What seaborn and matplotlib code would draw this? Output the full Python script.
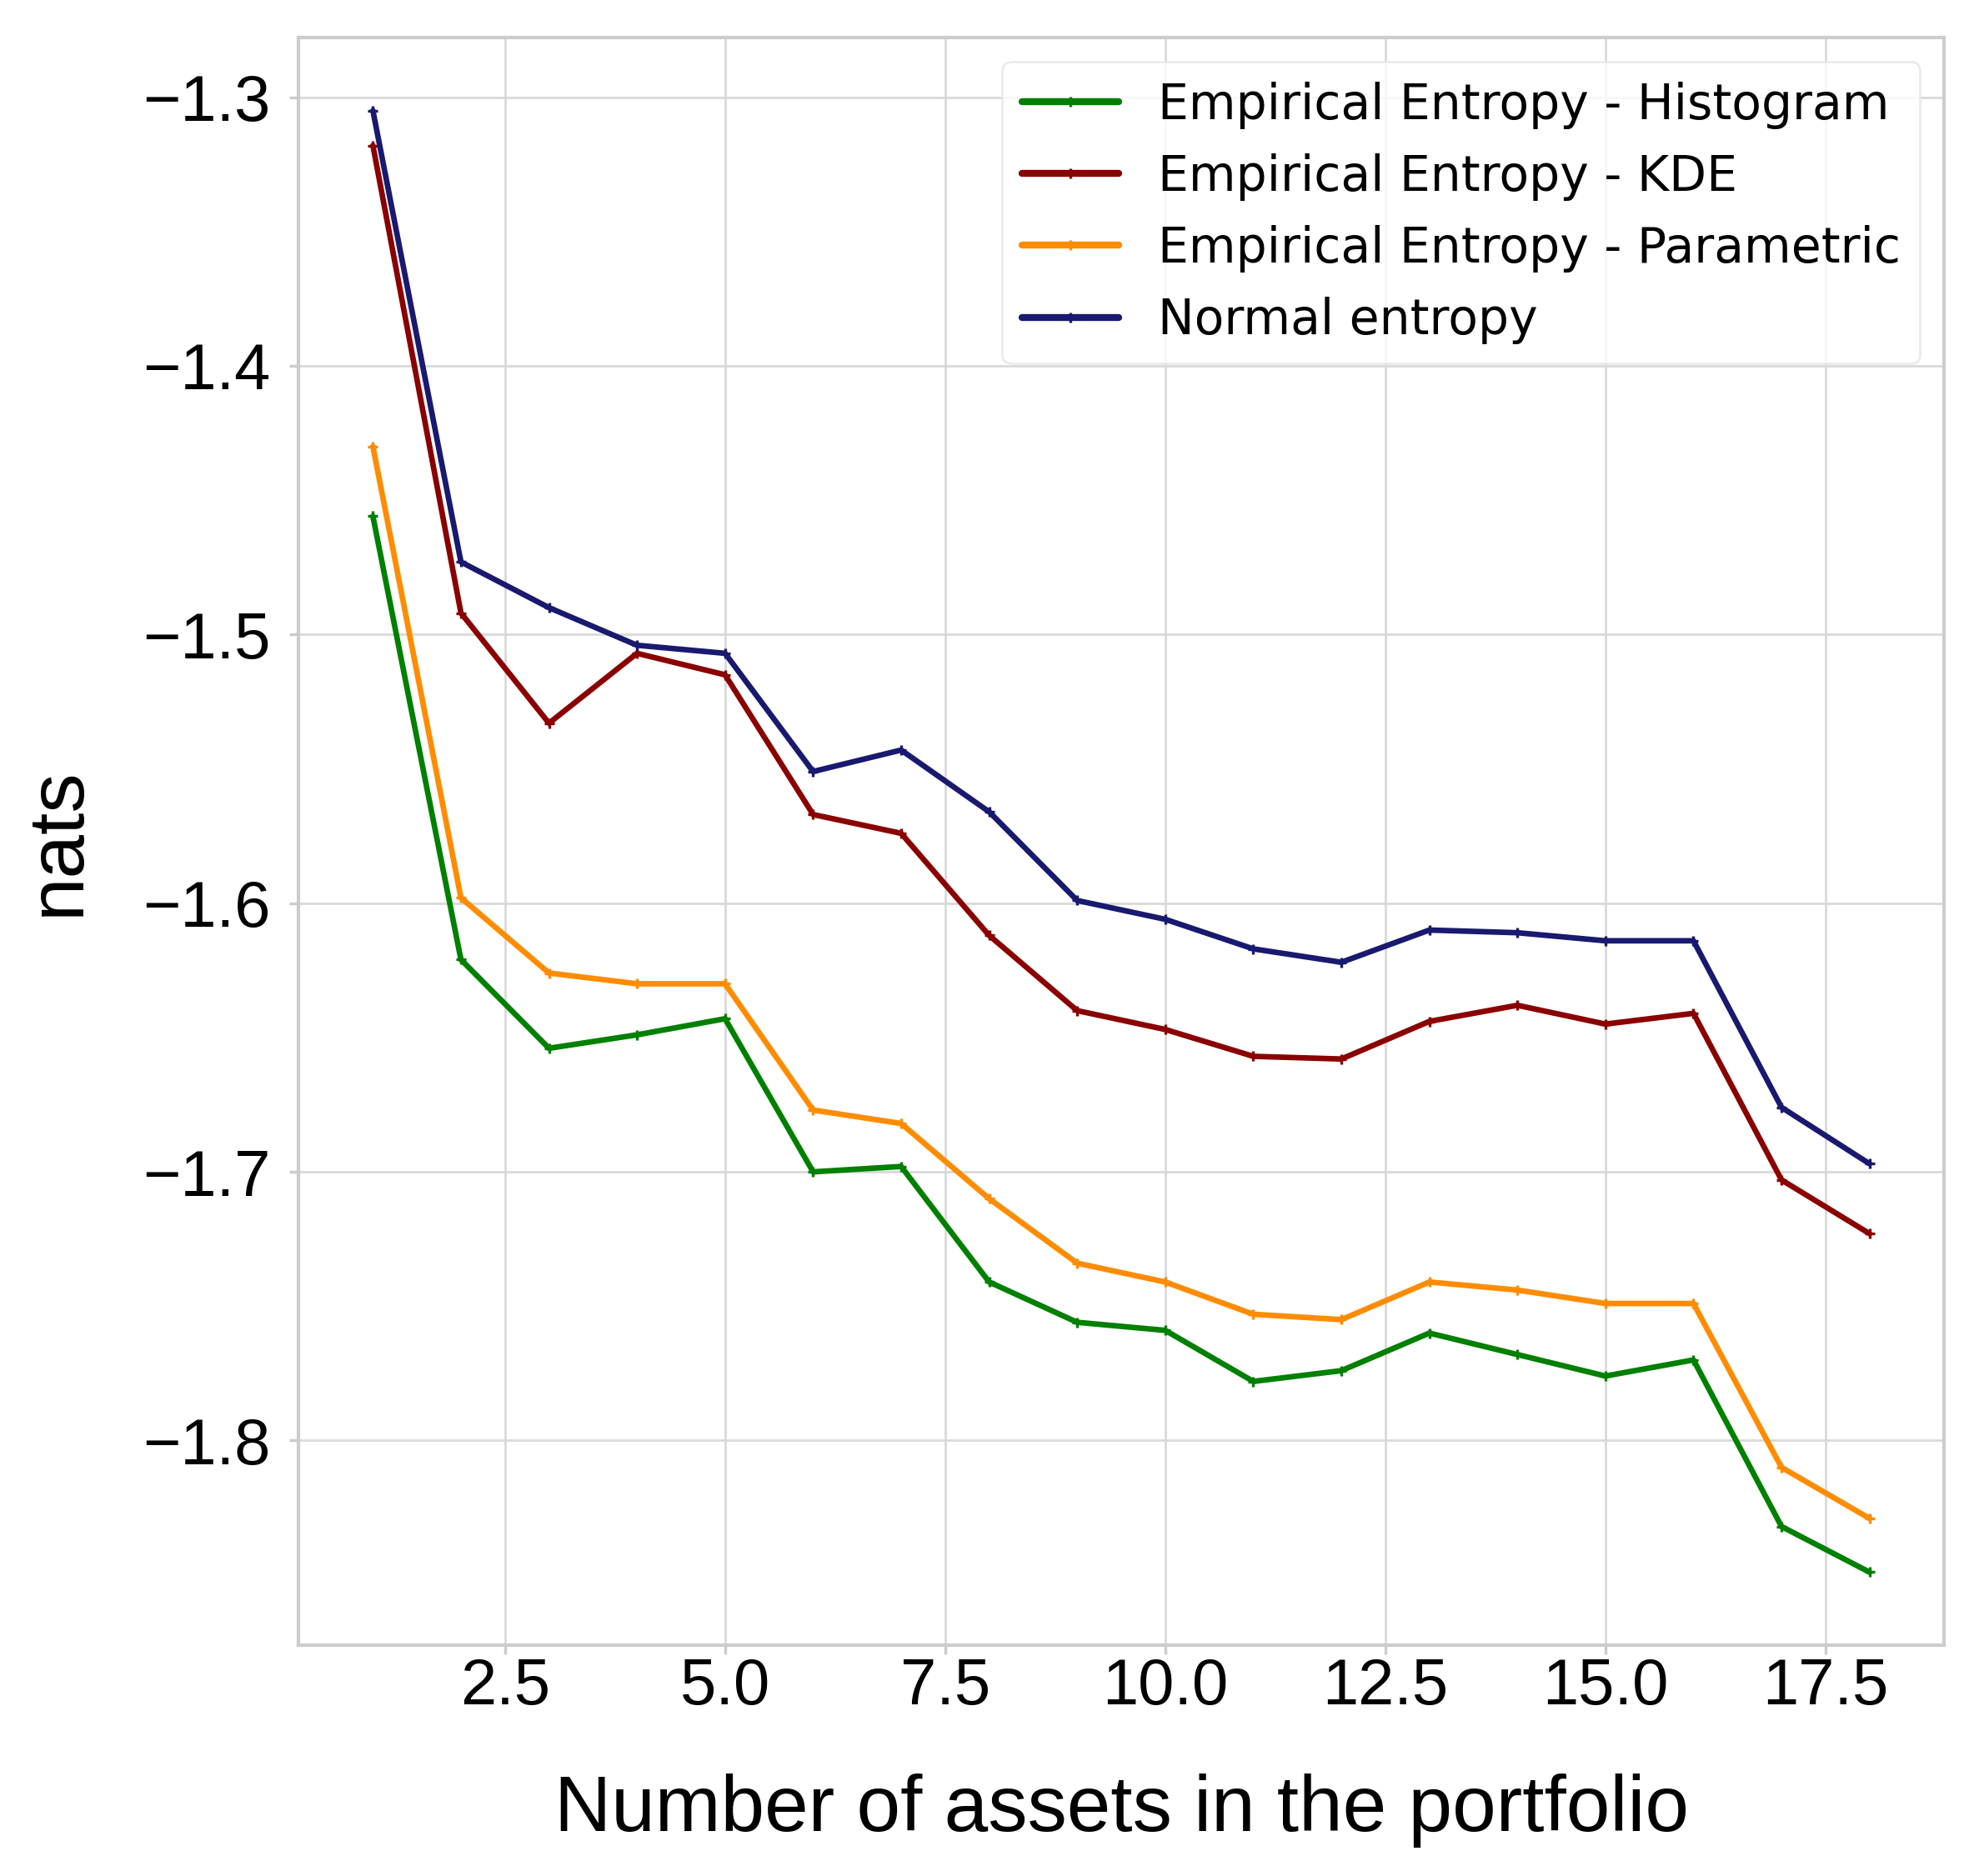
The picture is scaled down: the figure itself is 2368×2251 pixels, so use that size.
import numpy as np
import pandas as pd
import seaborn as sns
import matplotlib
matplotlib.use("Agg")
import matplotlib.pyplot as plt

# number of assets in the portfolio
n_assets = list(range(1, 19))

# entropy estimates in nats
hist_entropy = [-1.456, -1.621, -1.654, -1.649, -1.643, -1.700, -1.698, -1.741, -1.756,
                -1.759, -1.778, -1.774, -1.760, -1.768, -1.776, -1.770, -1.832, -1.849]
kde_entropy = [-1.318, -1.492, -1.533, -1.507, -1.515, -1.567, -1.574, -1.612, -1.640,
               -1.647, -1.657, -1.658, -1.644, -1.638, -1.645, -1.641, -1.703, -1.723]
param_entropy = [-1.430, -1.598, -1.626, -1.630, -1.630, -1.677, -1.682, -1.710, -1.734,
                 -1.741, -1.753, -1.755, -1.741, -1.744, -1.749, -1.749, -1.810, -1.829]
normal_entropy = [-1.305, -1.473, -1.490, -1.504, -1.507, -1.551, -1.543, -1.566, -1.599,
                  -1.606, -1.617, -1.622, -1.610, -1.611, -1.614, -1.614, -1.676, -1.697]

labels = ["Empirical Entropy - Histogram", "Empirical Entropy - KDE",
          "Empirical Entropy - Parametric", "Normal entropy"]
colors = ["green", "darkred", "darkorange", "midnightblue"]

sns.set_theme(style="whitegrid")
plt.rcParams["font.family"] = ["Liberation Sans", "DejaVu Sans"]
plt.rcParams["text.color"] = "black"
plt.rcParams["axes.labelcolor"] = "black"
plt.rcParams["xtick.color"] = "black"
plt.rcParams["ytick.color"] = "black"

fig = plt.figure(figsize=(11.84, 11.255), dpi=200)
ax = fig.add_axes([0.151, 0.123, 0.834, 0.857])

for vals, lab, col in zip([hist_entropy, kde_entropy, param_entropy, normal_entropy], labels, colors):
    sns.lineplot(x=n_assets, y=vals, label=lab, color=col, marker="+", markersize=4,
                 markeredgewidth=1.2, markeredgecolor=col, linewidth=2.4, ax=ax)

ax.set_xlabel("Number of assets in the portfolio", fontsize=34, labelpad=24)
ax.set_ylabel("nats", fontsize=34, labelpad=20)
ax.tick_params(axis="both", labelsize=28, length=4, color=".8",
               bottom=True, left=True)
ax.tick_params(axis="x", pad=1)
ax.tick_params(axis="y", pad=8)
ax.set_xticks([2.5, 5.0, 7.5, 10.0, 12.5, 15.0, 17.5])
ax.set_yticks([-1.8, -1.7, -1.6, -1.5, -1.4, -1.3])
for sp in ax.spines.values():
    sp.set_color(".8")
    sp.set_linewidth(1.5)
ax.grid(color=".85", linewidth=1.0)

leg = ax.legend(loc="upper right", prop={"family": "DejaVu Sans", "size": 21},
                frameon=True, framealpha=0.8)
leg.get_frame().set_edgecolor(".9")
for line in leg.get_lines():
    line.set_linewidth(3.0)

fig.savefig("out.png", dpi=200)
